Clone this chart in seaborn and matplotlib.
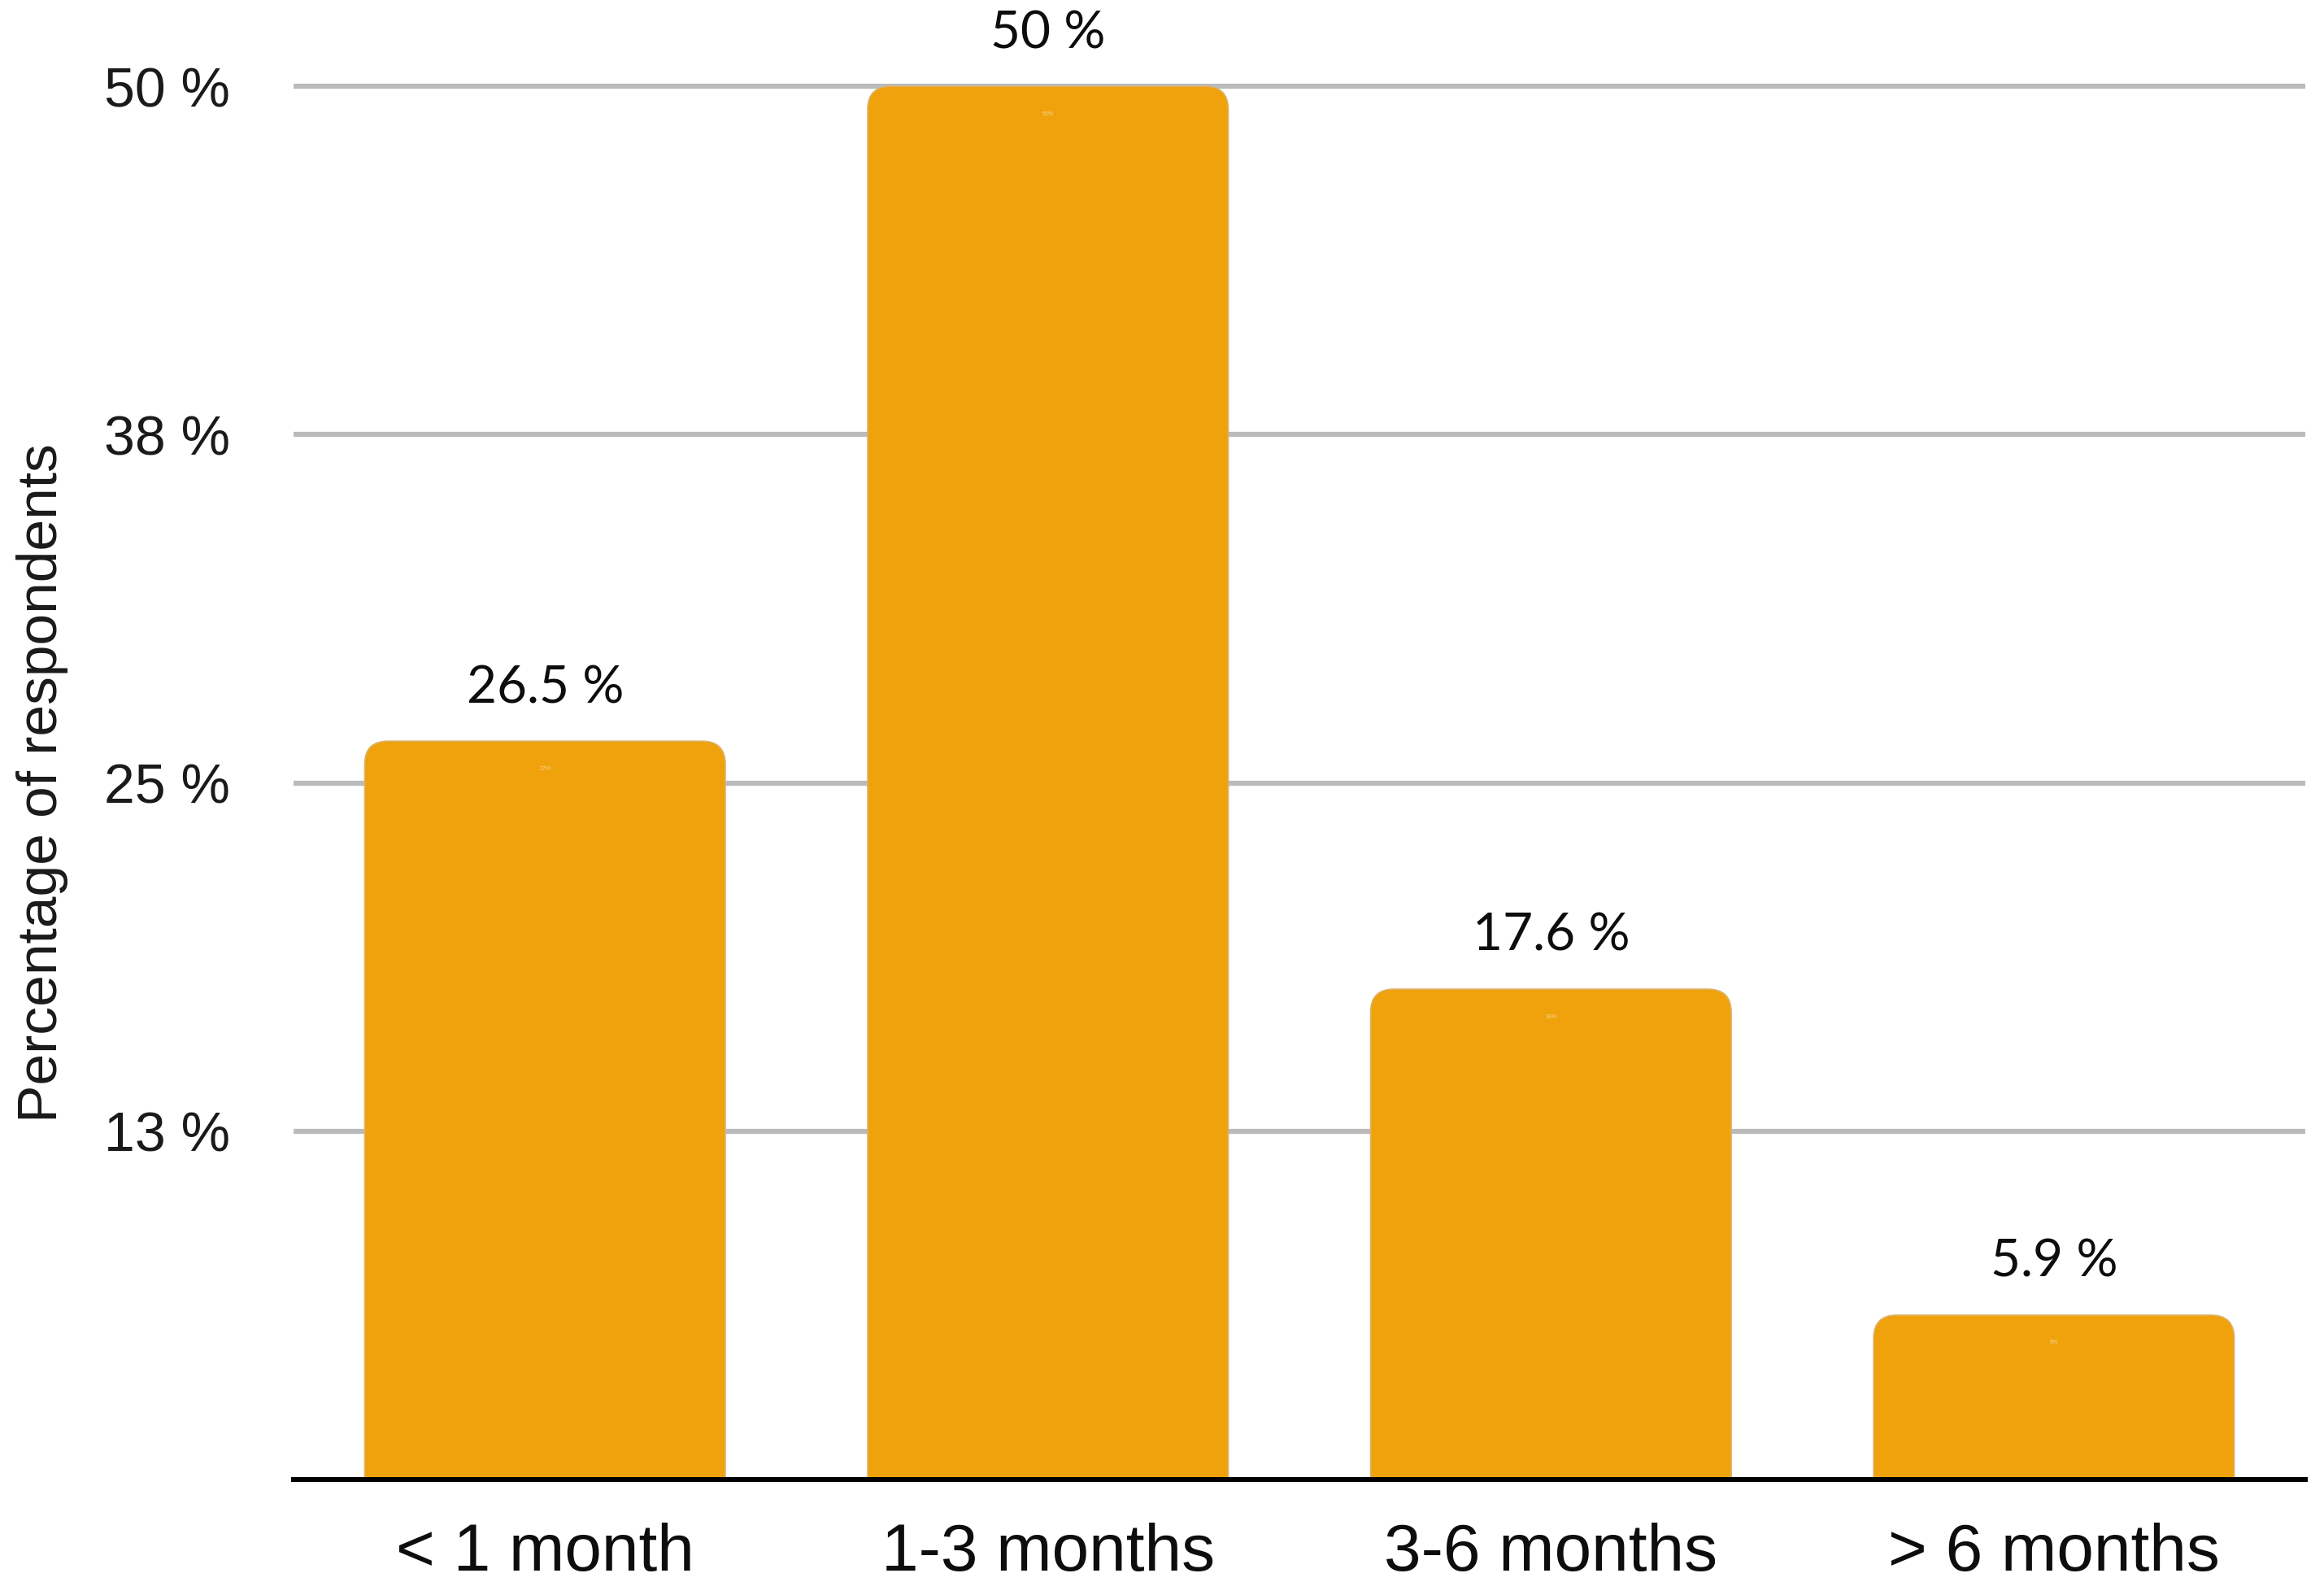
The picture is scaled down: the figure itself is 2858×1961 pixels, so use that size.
import matplotlib
matplotlib.use("Agg")
import matplotlib.pyplot as plt
import seaborn as sns
import pandas as pd
from matplotlib.patches import FancyBboxPatch

# data
categories = ["< 1 month", "1-3 months", "3-6 months", "> 6 months"]
percentages = [26.5, 50.0, 17.6, 5.9]
value_labels = ["26.5 %", "50 %", "17.6 %", "5.9 %"]
tiny_labels = ["27%", "50%", "18%", "6%"]
y_ticks = [12.5, 25, 37.5, 50]
y_tick_labels = ["13 %", "25 %", "38 %", "50 %"]

bar_color = "#F0A20C"

sns.set_style("white")
plt.rcParams['font.family'] = ['Liberation Sans', 'DejaVu Sans']

df = pd.DataFrame({"duration": categories, "pct": percentages})

fig, ax = plt.subplots(figsize=(28.58, 19.61), dpi=100)
fig.subplots_adjust(left=0.1263, right=0.992, bottom=0.0724, top=0.9546)

sns.barplot(data=df, x="duration", y="pct", color=bar_color, saturation=1,
            width=0.717, ax=ax, zorder=3)

ax.set_xlim(-0.5, 3.5)
ax.set_ylim(0, 50.5)

# swap the plain rectangles for bars with rounded top corners
for p in ax.patches:
    p.set_visible(False)
    box = FancyBboxPatch((p.get_x(), -2), p.get_width(), p.get_height() + 2,
                         boxstyle="round,pad=0,rounding_size=0.046",
                         mutation_aspect=18, facecolor=bar_color,
                         edgecolor="#DDB26A", linewidth=1.2, zorder=3)
    ax.add_patch(box)

# value labels above bars
ax.bar_label(ax.containers[0], labels=value_labels, padding=26,
             fontsize=46, fontfamily='Lato', color="#0d0d0d")
# the faint little labels inside the bar tops
ax.bar_label(ax.containers[0], labels=tiny_labels, padding=-27,
             fontsize=5, color="#F7D395")

# grid + axes
ax.set_yticks(y_ticks, y_tick_labels)
ax.yaxis.grid(True, color="#BBBBBB", linewidth=4.5)
ax.xaxis.grid(False)
ax.set_axisbelow(True)
sns.despine(ax=ax, left=True)
ax.spines['bottom'].set_color('black')
ax.spines['bottom'].set_linewidth(4.3)
ax.spines['bottom'].set_zorder(5)

ax.tick_params(axis='y', length=0, pad=56, labelsize=49, labelcolor="#1a1a1a")
ax.tick_params(axis='x', length=0, pad=38, labelsize=59, labelcolor="#0d0d0d")

ax.set_xlabel("")
ax.set_ylabel("Percentage of respondents", fontsize=50, color="#1a1a1a")
ax.yaxis.set_label_coords(-0.112, 0.495)

fig.savefig("out.png", dpi=100)
